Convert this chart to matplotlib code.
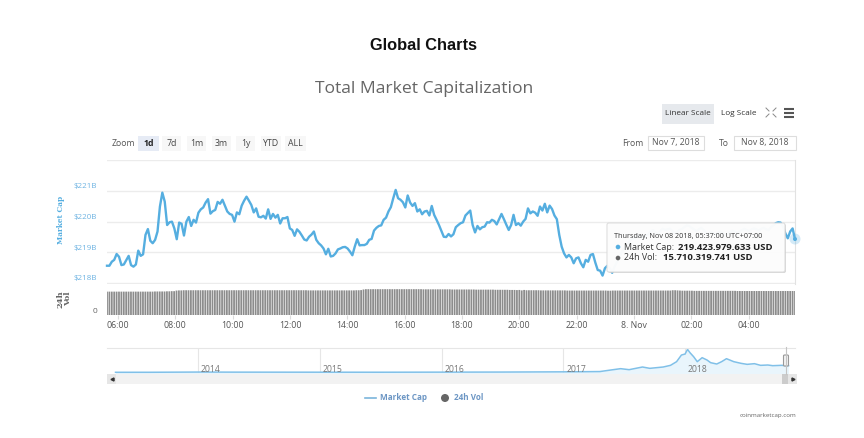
import matplotlib
matplotlib.use("Agg")
import matplotlib.pyplot as plt
import matplotlib.patches as patches
import numpy as np

# market cap in billion USD, roughly one reading every 5 minutes from Nov 7 05:37
market_cap = [
    218.57, 218.57, 218.70, 218.76, 218.95, 218.86, 218.59, 218.61, 218.75, 218.89, 218.59, 218.54,
    218.61, 219.06, 218.89, 218.94, 219.57, 219.76, 219.38, 219.30, 219.41, 219.68, 220.49, 220.94,
    220.65, 219.89, 219.98, 220.00, 219.78, 219.43, 219.97, 219.93, 219.55, 220.00, 220.15, 219.86,
    220.06, 219.97, 220.29, 220.40, 220.46, 220.62, 220.73, 220.26, 220.34, 220.38, 220.64, 220.58,
    220.71, 220.52, 220.33, 220.25, 220.22, 220.00, 220.30, 220.24, 220.52, 220.68, 220.81, 220.68,
    220.54, 220.30, 220.43, 220.16, 220.14, 220.19, 220.10, 220.40, 220.09, 220.25, 220.13, 220.22,
    219.94, 220.11, 220.11, 220.15, 219.78, 219.73, 219.54, 219.75, 219.67, 219.55, 219.42, 219.39,
    219.51, 219.58, 219.68, 219.41, 219.30, 219.23, 219.13, 218.94, 219.12, 218.87, 218.89, 218.97,
    219.10, 219.13, 219.17, 219.18, 219.13, 219.03, 218.91, 219.19, 219.43, 219.23, 219.24,
    219.24, 219.28, 219.41, 219.44, 219.71, 219.80, 219.86, 219.88, 220.06, 220.13, 220.33, 220.47,
    220.76, 221.03, 220.76, 220.71, 220.63, 220.46, 220.85, 220.62, 220.51, 220.60, 220.33, 220.40,
    220.24, 220.33, 220.35, 220.20, 220.51, 220.22, 220.06, 219.89, 219.70, 219.51, 219.50, 219.60,
    219.52, 219.59, 219.82, 219.89, 219.95, 219.98, 220.20, 220.28, 220.36, 219.89, 219.65, 219.86,
    219.75, 219.82, 219.84, 219.98, 219.97, 220.06, 220.02, 219.91, 220.08, 220.25, 220.08, 219.90,
    219.73, 219.89, 220.22, 219.89, 219.95, 219.87, 220.00, 220.09, 220.43, 220.27, 220.33, 220.29,
    220.19, 220.49, 220.36, 220.58, 220.30, 220.52, 220.41, 220.20, 220.08, 219.57, 219.19, 218.97,
    218.84, 218.92, 218.84, 218.65, 218.81, 218.84, 218.65, 218.52, 218.76, 218.70, 218.92, 218.95,
    218.67, 218.43, 218.41, 218.25, 218.49, 218.57, 218.49, 218.34, 218.54, 218.70, 218.84, 219.03,
    219.13, 219.24, 219.35, 219.43, 219.46, 219.51, 219.57, 219.51, 219.46, 219.54, 219.59, 219.68,
    219.73, 219.64, 219.60, 219.70, 219.77, 219.73, 219.75, 219.77, 219.70, 219.62, 219.67, 219.73,
    219.76, 219.82, 219.88, 219.86, 219.80, 219.75, 219.69, 219.75, 219.80, 219.73, 219.64, 219.60,
    219.67, 219.62, 219.58, 219.64, 219.68, 219.62, 219.57, 219.60, 219.67, 219.71, 219.67, 219.62,
    219.69, 219.73, 219.77, 219.73, 219.69, 219.75, 219.78, 219.75, 219.71, 219.77, 219.80, 219.75,
    219.72, 219.82, 219.88, 219.95, 219.98, 219.97, 219.84, 219.62, 219.46, 219.68, 219.78, 219.43,
]

# 24h volume in billion USD, one row per hour
volume = [
    15.3, 15.3, 15.3, 15.3, 15.3, 15.3, 15.3, 15.3, 15.3, 15.3, 15.3, 15.3,
    15.3, 15.3, 15.3, 15.3, 15.3, 15.3, 15.3, 15.3, 15.4, 15.4, 15.4, 15.4,
    15.4, 15.5, 15.5, 15.6, 15.6, 16.0, 16.1, 16.1, 16.2, 16.2, 16.2, 16.2,
    16.2, 16.2, 16.2, 16.2, 16.2, 16.2, 16.2, 16.2, 16.2, 16.2, 16.2, 16.2,
    16.2, 16.2, 16.2, 16.2, 16.2, 16.2, 16.2, 16.2, 16.2, 16.2, 16.2, 16.2,
    16.2, 16.2, 16.2, 16.2, 16.2, 16.2, 16.2, 16.2, 16.2, 16.2, 16.2, 16.2,
    16.2, 16.2, 16.2, 16.2, 16.2, 16.2, 16.2, 16.2, 16.2, 16.2, 16.2, 16.2,
    16.1, 16.1, 16.1, 16.1, 16.1, 16.1, 16.1, 16.1, 16.1, 16.1, 16.1, 16.1,
    16.1, 16.1, 16.1, 16.1, 16.1, 16.1, 16.1, 16.1, 16.2, 16.2, 16.3, 16.7,
    16.9, 16.9, 16.9, 16.9, 16.9, 16.9, 16.9, 16.9, 16.9, 16.9, 16.9, 16.9,
    16.9, 16.9, 16.9, 16.9, 16.9, 16.9, 16.9, 16.9, 16.9, 16.9, 16.9, 16.9,
    16.8, 16.8, 16.8, 16.8, 16.8, 16.8, 16.8, 16.8, 16.8, 16.8, 16.8, 16.8,
    16.7, 16.7, 16.7, 16.7, 16.7, 16.7, 16.7, 16.7, 16.7, 16.7, 16.6, 16.6,
    16.6, 16.6, 16.6, 16.6, 16.6, 16.6, 16.5, 16.5, 16.5, 16.5, 16.5, 16.5,
    16.4, 16.4, 16.4, 16.3, 16.4, 16.1, 16.4, 16.2, 16.2, 16.2, 16.2, 16.2,
    16.2, 16.1, 16.1, 16.1, 16.1, 16.1, 16.1, 16.1, 16.1, 16.1, 16.1, 16.1,
    16.0, 16.0, 16.0, 16.0, 16.0, 16.0, 16.0, 16.0, 16.0, 16.0, 16.0, 16.0,
    16.0, 16.0, 16.0, 16.0, 16.0, 15.9, 15.9, 16.0, 16.0, 16.0, 16.0, 16.0,
    16.0, 16.0, 16.0, 16.0, 16.0, 16.0, 16.0, 16.0, 16.0, 16.0, 16.0, 16.0,
    16.0, 16.0, 16.0, 16.0, 16.0, 16.0, 16.0, 16.0, 16.2, 16.2, 16.1, 16.0,
    15.9, 15.9, 15.9, 15.9, 15.9, 15.8, 15.8, 15.8, 15.8, 15.8, 15.8, 15.8,
    15.8, 15.8, 15.8, 15.8, 15.8, 15.8, 15.8, 15.8, 15.8, 15.8, 15.8, 15.7,
    15.7, 15.7, 15.7, 15.7, 15.7, 15.7, 15.7, 15.7, 15.7, 15.7, 15.7, 15.7,
    15.7, 15.7, 15.7, 15.7, 15.7, 15.7, 15.7, 15.7, 15.7, 15.7, 15.7, 15.7,
]

# navigator overview, year fraction and total cap in billion USD
nav_years = [2013.32, 2013.6, 2013.9, 2014.0, 2014.3, 2014.6, 2015.0, 2015.5, 2016.0, 2016.5, 2017.0,
             2017.15, 2017.30, 2017.39, 2017.47, 2017.54, 2017.65, 2017.71, 2017.82, 2017.88, 2017.93,
             2017.97, 2018.00, 2018.02, 2018.04, 2018.07, 2018.10, 2018.14, 2018.18, 2018.21, 2018.26,
             2018.30, 2018.34, 2018.40, 2018.46, 2018.51, 2018.57, 2018.62, 2018.68, 2018.72, 2018.79,
             2018.85]
nav_caps = [1.5, 2, 8, 10, 7, 6, 5, 4, 7, 10, 18,
            22, 28, 84, 132, 96, 192, 144, 192, 252, 384,
            624, 660, 828, 708, 564, 384, 528, 444, 348, 300,
            384, 492, 384, 324, 288, 312, 252, 264, 240, 252,
            240]

time_ticks = [6, 8, 10, 12, 14, 16, 18, 20, 22, 24, 26, 28]
time_labels = ["06:00", "08:00", "10:00", "12:00", "14:00", "16:00", "18:00", "20:00", "22:00",
               "8. Nov", "02:00", "04:00"]
cap_ticks = [218, 219, 220, 221]
cap_labels = ["$218B", "$219B", "$220B", "$221B"]
nav_ticks = [2014, 2015, 2016, 2017, 2018]

BLUE = "#55aee0"
GRID = "#ececec"
W, H = 864, 438
T0, T1 = 5 + 37 / 60, 29 + 37 / 60
PT = 0.72  # points per pixel at dpi 100

plt.rcParams["font.family"] = ["Open Sans", "DejaVu Sans"]


def px_axes(fig, left, top, right, bottom):
    return fig.add_axes([left / W, 1 - bottom / H, (right - left) / W, (bottom - top) / H])


fig = plt.figure(figsize=(8.64, 4.38), dpi=100, facecolor="white")

# main line
ax = px_axes(fig, 107, 160, 795, 284)
times = np.linspace(T0, T1, len(market_cap))
ax.plot(times, market_cap, color=BLUE, lw=1.7, solid_joinstyle="round", clip_on=False, zorder=3)
ax.set_xlim(T0, T1)
ax.set_ylim(218 - 0.7 / 30.77, 222)
ax.set_yticks(cap_ticks + [222])
ax.set_yticklabels([])
ax.set_xticks([])
ax.grid(axis="y", color=GRID, lw=1)
ax.set_axisbelow(True)
ax.tick_params(axis="y", length=0)
for value, label in zip(cap_ticks, cap_labels):
    # labels sit a little above their gridline
    ax.annotate(label, (0, value), xycoords=ax.get_yaxis_transform(), xytext=(-10 * PT, 4.3 * PT),
                textcoords="offset points", ha="right", va="center", color="#6db3e2", fontsize=5.8,
                annotation_clip=False)
for name, spine in ax.spines.items():
    spine.set_visible(name == "right")
    spine.set_color("#e2e2e2")
ax.patch.set_alpha(0)

# volume bars
ax_vol = px_axes(fig, 107, 285, 795, 315)
bar_times = np.linspace(T0, T1, len(volume))
bars = ax_vol.bar(bar_times, volume, width=0.062, color="#8c8c8c", linewidth=0)
for bar in bars:
    bar.set_snap(False)
ax_vol.set_xlim(T0, T1)
ax_vol.set_ylim(0, 30 / 1.528)
ax_vol.set_yticks([])
ax_vol.annotate("0", (0, 0), xycoords=ax_vol.get_yaxis_transform(), xytext=(-10 * PT, 3.5 * PT),
                textcoords="offset points", ha="right", va="center", color="#666666", fontsize=6,
                annotation_clip=False)
ax_vol.set_xticks(time_ticks)
ax_vol.set_xticklabels(time_labels, color="#555555", fontsize=6.3)
ax_vol.tick_params(axis="x", length=3, color="#dddddd", width=0.8, pad=1.5)
for name, spine in ax_vol.spines.items():
    spine.set_visible(False)
ax_vol.patch.set_alpha(0)

# navigator
ax_nav = px_axes(fig, 107, 348, 795, 374)
ax_nav.fill_between(nav_years, nav_caps, -60, color="#e9f5fc", lw=0)
ax_nav.plot(nav_years, nav_caps, color="#80c0e8", lw=1.1)
ax_nav.set_xlim(2013.25, 2018.903)
ax_nav.set_ylim(-60, 877)
ax_nav.set_yticks([])
ax_nav.set_xticks(nav_ticks)
ax_nav.set_xticklabels([])
ax_nav.tick_params(axis="x", length=0)
ax_nav.grid(axis="x", color="#e6e6e6", lw=0.8)
ax_nav.set_axisbelow(True)
for year in nav_ticks:
    ax_nav.annotate(str(year), (year, 0), xytext=(2, 2.2), textcoords="offset points", color="#777777",
                    fontsize=6.2, va="center", ha="left")
for name, spine in ax_nav.spines.items():
    spine.set_visible(name == "top")
    spine.set_color("#e6e6e6")

# overlay in pixel coordinates for the page furniture
ui = fig.add_axes([0, 0, 1, 1], zorder=10)
ui.set_xlim(0, W)
ui.set_ylim(H, 0)
ui.axis("off")


def box(x0, y0, x1, y1, fc, ec="none", lw=0.8):
    ui.add_patch(patches.Rectangle((x0, y0), x1 - x0, y1 - y0, facecolor=fc, edgecolor=ec, linewidth=lw))


ui.text(423.5, 45, "Global Charts", ha="center", va="center", fontsize=11.8, fontweight="bold",
        family="Liberation Sans", color="#111111")
ui.text(424.5, 89, "Total Market Capitalization", ha="center", va="center", fontsize=12.6,
        color="#666666")

ui.text(61, 220, "Market Cap", rotation=90, ha="center", va="center", fontsize=5.3, fontweight="bold",
        family="DejaVu Serif", color=BLUE)
ui.text(64, 299, "24h\nVol", rotation=90, ha="center", va="center", fontsize=6, fontweight="bold",
        family="DejaVu Serif", color="#666666", linespacing=1.0)

# scale buttons
box(662, 104, 714, 124, "#e6e9ed")
ui.text(688, 113.5, "Linear Scale", ha="center", va="center", fontsize=5.9, color="#333333")
ui.text(738.5, 113.5, "Log Scale", ha="center", va="center", fontsize=5.9, color="#333333")
for y0, y1 in [(108, 111), (117, 114)]:
    ui.plot([766, 769], [y0, y1], color="#888888", lw=0.7)
    ui.plot([776, 773], [y0, y1], color="#888888", lw=0.7)
for y in [108.5, 112.5, 116.5]:
    ui.plot([783.5, 794], [y, y], color="#555555", lw=1.5, solid_capstyle="butt")

# zoom buttons
ui.text(112, 143, "Zoom", ha="left", va="center", fontsize=6.2, color="#555555")
range_buttons = [("1d", 138, 159), ("7d", 162, 181), ("1m", 187, 206), ("3m", 212, 231),
                 ("1y", 236, 255), ("YTD", 261, 281), ("ALL", 285, 306)]
for label, x0, x1 in range_buttons:
    active = label == "1d"
    box(x0, 136, x1, 151, "#e6ebf5" if active else "#f7f7f7")
    ui.text((x0 + x1) / 2, 143, label, ha="center", va="center", fontsize=6.3,
            fontweight="bold" if active else "normal", color="#222222" if active else "#444444")

# date range
ui.text(622, 143, "From", ha="left", va="center", fontsize=6.2, color="#555555")
box(648, 136, 704, 150, "white", "#dddddd")
ui.text(676, 143, "Nov 7, 2018", ha="center", va="center", fontsize=6.2, color="#555555")
ui.text(719, 143, "To", ha="left", va="center", fontsize=6.2, color="#555555")
box(734, 136, 796, 150, "white", "#dddddd")
ui.text(765, 143, "Nov 8, 2018", ha="center", va="center", fontsize=6.2, color="#555555")

# tooltip with hover marker
ui.add_patch(patches.Circle((795, 239), 5.5, facecolor=BLUE, alpha=0.25, edgecolor="none"))
ui.add_patch(patches.Circle((795, 239), 2, facecolor=BLUE, edgecolor="none"))
ui.add_patch(patches.FancyBboxPatch((608, 224), 178, 49, boxstyle="round,pad=0,rounding_size=2",
                                    facecolor="#bbbbbb", alpha=0.6, edgecolor="none"))
ui.add_patch(patches.FancyBboxPatch((607, 223), 178, 49, boxstyle="round,pad=0,rounding_size=2",
                                    facecolor="white", alpha=0.94, edgecolor="#dcdcdc", linewidth=0.8))
ui.text(614.5, 236.5, "Thursday, Nov 08 2018, 05:37:00 UTC+07:00", ha="left", va="center",
        fontsize=5.2, color="#333333")
ui.add_patch(patches.Circle((618, 247), 2.3, facecolor=BLUE, edgecolor="none"))
ui.text(624, 247, "Market Cap:", ha="left", va="center", fontsize=6.4, color="#333333")
ui.text(678, 247, "219.423.979.633 USD", ha="left", va="center", fontsize=6.8, fontweight="bold",
        color="#222222")
ui.add_patch(patches.Circle((618, 258), 2.3, facecolor="#666666", edgecolor="none"))
ui.text(624, 258, "24h Vol:", ha="left", va="center", fontsize=6.4, color="#333333")
ui.text(663, 258, "15.710.319.741 USD", ha="left", va="center", fontsize=6.8, fontweight="bold",
        color="#222222")

# scrollbar
box(107, 374, 796, 384, "#f2f2f2")
box(107, 374, 116, 384, "#e6e6e6")
box(782, 374, 788, 384, "#cccccc")
box(788, 374, 797, 384, "#e6e6e6")
ui.plot([111.5], [379], marker="<", ms=2.2, color="#333333")
ui.plot([792.5], [379], marker=">", ms=2.2, color="#333333")
ui.plot([786, 786], [347, 374], color="#c4c4c4", lw=0.8)
ui.add_patch(patches.FancyBboxPatch((783.5, 355), 5, 11, boxstyle="round,pad=0,rounding_size=1",
                                    facecolor="#f2f2f2", edgecolor="#999999", linewidth=0.8))

# legend
ui.plot([365, 376], [398, 398], color="#7cb5dc", lw=1.2)
ui.text(380, 398, "Market Cap", ha="left", va="center", fontsize=5.9, fontweight="bold",
        color="#6c96c4")
ui.add_patch(patches.Circle((445, 398), 4, facecolor="#666666", edgecolor="none"))
ui.text(454, 398, "24h Vol", ha="left", va="center", fontsize=5.9, fontweight="bold", color="#6c96c4")
ui.text(796, 415, "coinmarketcap.com", ha="right", va="center", fontsize=4.4, color="#666666")

fig.savefig("out.png", dpi=100)
